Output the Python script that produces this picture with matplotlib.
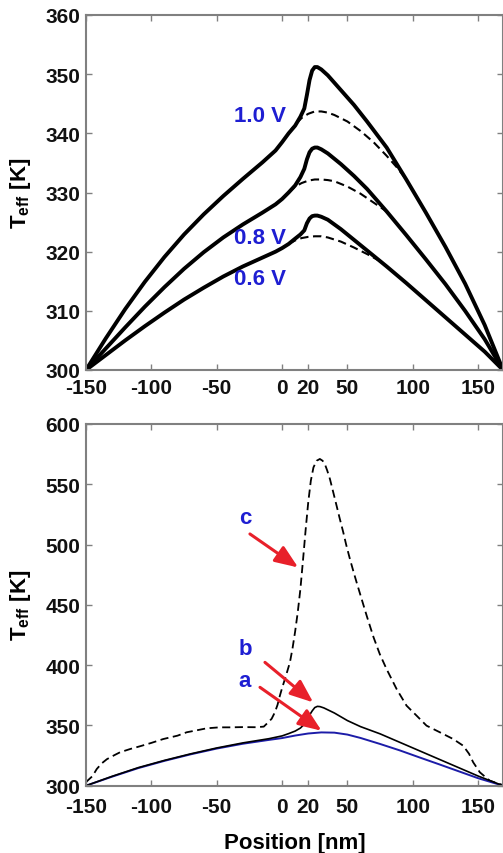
import matplotlib
matplotlib.use("Agg")
import matplotlib.pyplot as plt

plt.rcParams['font.family'] = ['Liberation Sans', 'DejaVu Sans']
plt.rcParams['font.weight'] = 'bold'
plt.rcParams['axes.unicode_minus'] = False
plt.rcParams['mathtext.fontset'] = 'custom'
plt.rcParams['mathtext.rm'] = 'Liberation Sans'
plt.rcParams['mathtext.bf'] = 'Liberation Sans:bold'

# ---- upper panel: bias sweep ----
x_top = [-150, -135, -120, -105, -90, -75, -60, -45, -30, -15, -5, 0, 5, 10, 14, 17,
         19, 21, 23, 25, 27, 30, 35, 45, 55, 65, 80, 95, 110, 125, 140, 155, 169]
t_10 = [300, 305.3, 310.3, 314.9, 319.1, 322.9, 326.3, 329.4, 332.3, 335.1, 337.1, 338.5,
        340.0, 341.3, 342.8, 344.2, 346.5, 349, 350.6, 351.2, 351.2, 350.8, 349.8, 347.3,
        344.8, 342.0, 337.6, 332.2, 326.6, 320.8, 314.6, 307.6, 300]
t_08 = [300, 303.6, 307.2, 310.7, 314.0, 317.1, 319.9, 322.4, 324.6, 326.6, 328.0, 328.9,
        330.0, 331.2, 332.6, 334, 335.6, 336.8, 337.4, 337.6, 337.6, 337.3, 336.6, 334.8,
        332.8, 330.6, 326.8, 322.8, 318.7, 314.5, 310.0, 305.2, 300]
t_06 = [300, 302.5, 305.0, 307.4, 309.7, 311.9, 313.9, 315.8, 317.5, 319.0, 320.0, 320.6,
        321.3, 322.2, 322.9, 323.6, 324.8, 325.6, 326, 326.1, 326.1, 325.9, 325.4, 323.8,
        322.0, 320.2, 317.5, 314.7, 311.8, 308.9, 306.0, 303.1, 300]

xd_10 = [5, 10, 15, 20, 25, 30, 35, 40, 50, 60, 70, 80, 88, 95]
td_10 = [340.0, 341.5, 342.6, 343.3, 343.7, 343.7, 343.5, 343.1, 342.0, 340.4, 338.5,
         336.2, 334.2, 332.2]
xd_08 = [5, 10, 15, 20, 25, 30, 35, 40, 50, 60, 70, 80]
td_08 = [330.0, 331.0, 331.6, 332.0, 332.2, 332.2, 332.1, 331.9, 331.0, 329.8, 328.3, 326.8]
xd_06 = [5, 10, 15, 20, 25, 30, 35, 45, 55, 65, 75]
td_06 = [321.3, 321.9, 322.3, 322.5, 322.6, 322.6, 322.4, 321.7, 320.7, 319.6, 318.4]

bias_labels = ['1.0 V', '0.8 V', '0.6 V']
bias_label_pos = [(-17, 343), (-17, 322.4), (-17, 315.4)]

# ---- lower panel: curves a, b, c ----
x_a = [-150, -130, -110, -90, -70, -50, -30, -10, 0, 10, 20, 30, 40, 50, 60, 75, 90,
       105, 120, 135, 150, 169]
t_a = [300, 307.5, 314.6, 320.6, 326.0, 330.8, 334.8, 338, 339.5, 341.6, 343.3, 344.2, 344,
       342.4, 339.6, 334.6, 329.3, 323.5, 317.8, 312, 306.2, 300]
x_b = [-150, -130, -110, -90, -70, -50, -30, -10, 0, 5, 10, 14, 17, 19, 21, 23, 25, 27,
       29, 32, 40, 50, 60, 75, 90, 105, 120, 135, 150, 169]
t_b = [300, 307.8, 315.0, 321.0, 326.4, 331.3, 335.5, 339.0, 341.3, 343.2, 345.3, 347.8, 351,
       354.5, 358.5, 362, 364.8, 365.8, 365.6, 364.5, 360.3, 354, 349, 343, 336, 329, 322,
       315, 308, 300]
x_c = [-150, -145, -141.8, -138, -134, -128, -124, -116, -108.7, -100, -90.9, -80, -73,
       -65, -57.7, -48, -40, -30, -20, -14, -10.6, -8, -5.5, -3.5, -1.7, 0, 2.2, 4, 6, 8,
       10, 12, 14, 16, 18, 20, 22, 24, 26.4, 28.9, 31, 32.7, 34.5, 36.6, 39, 41.7, 44,
       46.8, 49, 51.9, 54.5, 57, 60.8, 65, 70, 74.8, 79.9, 87.6, 95.2, 102.9, 110.5,
       120.7, 130.9, 138.5, 143, 146.2, 151.3, 158.9, 169]
t_c = [303, 308, 313.8, 318.5, 322, 325.5, 327.7, 330.5, 332.7, 335.5, 338.7, 341.5,
       344.3, 346, 347.6, 348.4, 348.4, 348.6, 348.5, 349, 352.6, 355.5, 360.9, 367,
       374.6, 381, 388.5, 395, 402.3, 414, 428, 444, 463, 487, 512, 535, 553, 564,
       569.5, 571, 569.5, 566.8, 561.5, 554.4, 544, 532.2, 522, 510.2, 500, 488, 478,
       468.7, 455, 440, 423, 409, 396.8, 380.2, 366.4, 358.1, 349.8, 344.3, 338.7,
       333.2, 326.5, 319.4, 311.1, 304.1, 300.5]

curve_labels = ['c', 'b', 'a']
curve_label_pos = [(-28.4, 522.6), (-28.4, 413.4), (-28.4, 387.1)]
arrow_tails = [(-24.6, 508.8), (-13.1, 402.3), (-16.9, 381.6)]
arrow_heads = [(12.3, 481), (23.8, 369.1), (30.2, 345.6)]

xticks = [-150, -100, -50, 0, 20, 50, 100, 150]

blue = '#1e1ed2'
red = '#e8202a'
spine_gray = '#808080'

fig = plt.figure(figsize=(5.03, 8.54), dpi=100)
ax1 = fig.add_axes([86 / 503, 483 / 854, 417 / 503, 355 / 854])
ax2 = fig.add_axes([86 / 503, 67.3 / 854, 417 / 503, 361.7 / 854])


def style(ax, yticks, pad):
    ax.set_xlim(-150, 169)
    ax.set_xticks(xticks)
    ax.set_yticks(yticks)
    ax.set_ylim(yticks[0], yticks[-1])
    ax.tick_params(direction='in', top=True, right=True, length=4.5, width=1,
                   color=spine_gray, labelsize=15, labelcolor='#111111')
    ax.tick_params(axis='x', pad=pad)
    ax.tick_params(axis='y', pad=4)
    for s in ax.spines.values():
        s.set_color(spine_gray)
        s.set_linewidth(1.5)
    ax.set_ylabel(r'T$_{\mathrm{eff}}$ [K]', fontsize=16, fontweight='bold')
    ax.yaxis.set_label_coords(-0.128, 0.5)


# upper panel
for t in (t_10, t_08, t_06):
    ax1.plot(x_top, t, color='black', lw=2.8, solid_capstyle='round',
             solid_joinstyle='round')
for xd, td in [(xd_10, td_10), (xd_08, td_08), (xd_06, td_06)]:
    ax1.plot(xd, td, color='black', lw=1.5, dashes=(4, 2.2))
for lbl, (lx, ly) in zip(bias_labels, bias_label_pos):
    ax1.text(lx, ly, lbl, color=blue, fontsize=16, fontweight='bold',
             ha='center', va='center')
style(ax1, [300, 310, 320, 330, 340, 350, 360], 6)

# lower panel
ax2.plot(x_c, t_c, color='black', lw=1.3, dashes=(4.5, 2.5))
ax2.plot(x_a, t_a, color='#1c1ca8', lw=1.4)
ax2.plot(x_b, t_b, color='black', lw=1.2)
for lbl, (lx, ly) in zip(curve_labels, curve_label_pos):
    ax2.text(lx, ly, lbl, color=blue, fontsize=16, fontweight='bold',
             ha='center', va='center')
for tail, head in zip(arrow_tails, arrow_heads):
    ax2.annotate('', xy=head, xytext=tail,
                 arrowprops=dict(arrowstyle='-|>,head_length=0.7,head_width=0.28',
                                 color=red, lw=2.2, mutation_scale=20,
                                 shrinkA=0, shrinkB=0))
style(ax2, [300, 350, 400, 450, 500, 550, 600], 8)
ax2.set_xlabel('Position [nm]', fontsize=16, fontweight='bold')
ax2.xaxis.set_label_coords(0.5, -0.128)

fig.savefig('out.png', dpi=100, facecolor='white')
